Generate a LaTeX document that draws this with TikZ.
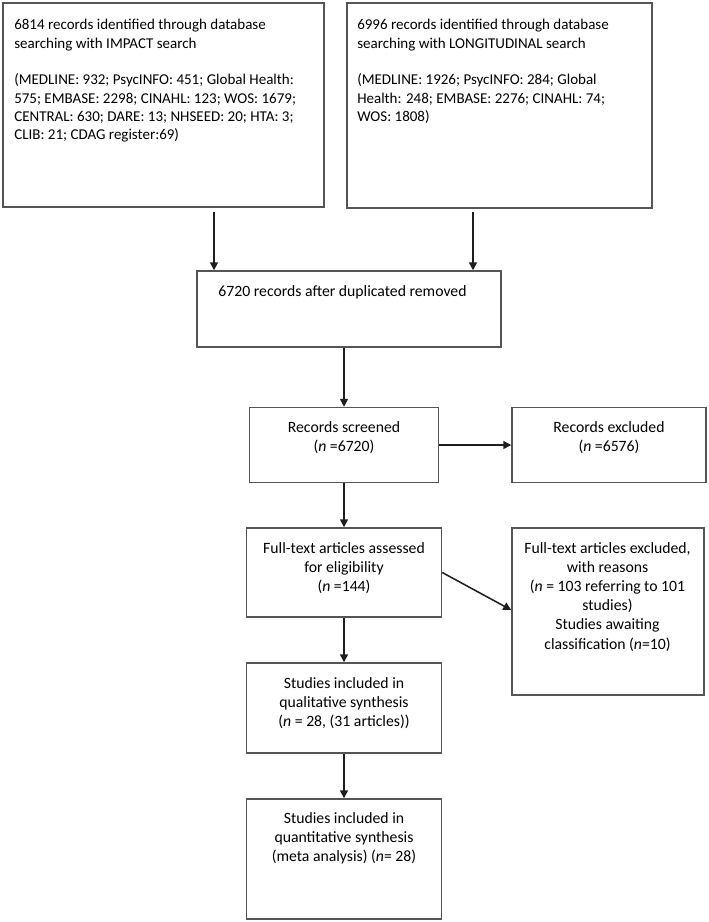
\documentclass[tikz,border=0pt]{standalone}
\usepackage{fontspec}
\setmainfont{Carlito}
\usetikzlibrary{arrows.meta}

\definecolor{boxline}{RGB}{85,85,85}
\definecolor{arrline}{RGB}{30,30,30}

\tikzset{
  box/.style={draw=boxline, line width=1.1pt, minimum width=#1, inner sep=0pt},
  txt/.style={inner sep=0pt, align=center, anchor=north, font=\fontsize{11.8}{14.4}\selectfont},
  toptxt/.style={inner sep=0pt, align=left, anchor=north west, font=\fontsize{11.25}{13.75}\selectfont},
  arr/.style={draw=arrline, line width=1.15pt, -{Triangle[length=6pt,width=6pt]}}
}

\begin{document}
\begin{tikzpicture}[x=0.75pt,y=0.75pt,yscale=-1,xscale=1]
\useasboundingbox (0,0) rectangle (709,922);

%Shape: Rectangle [id:impact]
\node [box=240.75pt, minimum height=153pt] (impact) at (163.5,105) {};
%Shape: Rectangle [id:longit]
\node [box=228.75pt, minimum height=153.75pt] (longit) at (499.5,105.5) {};
%Shape: Rectangle [id:dedup]
\node [box=228pt, minimum height=57pt] (dedup) at (349,309) {};
%Shape: Rectangle [id:screen]
\node [box=141.75pt, minimum height=56.25pt] (screen) at (344,445) {};
%Shape: Rectangle [id:recexcl]
\node [box=145.5pt, minimum height=56.25pt] (recexcl) at (609,445) {};
%Shape: Rectangle [id:fulltext]
\node [box=146.25pt, minimum height=66.75pt] (fulltext) at (344,572.5) {};
%Shape: Rectangle [id:ftexcl]
\node [box=144pt, minimum height=125.25pt] (ftexcl) at (608,611.5) {};
%Shape: Rectangle [id:qual]
\node [box=146.25pt, minimum height=67.5pt] (qual) at (344,708) {};
%Shape: Rectangle [id:quant]
\node [box=146.25pt, minimum height=90pt] (quant) at (344,859) {};

%Straight Lines [id:arrows]
\coordinate (jl) at (214,212);
\coordinate (jr) at (473,212);
\draw [arr] (jl) -- (jl |- dedup.north);
\draw [arr] (jr) -- (jr |- dedup.north);
\draw [arr] (dedup.south -| screen.north) -- (screen.north);
\draw [arr] (screen.east) -- (recexcl.west);
\draw [arr] (screen.south) -- (fulltext.north);
\draw [arr] (fulltext.east) -- (ftexcl.west |- 0,610);
\draw [arr] (fulltext.south) -- (qual.north);
\draw [arr] (qual.south) -- (quant.north);

% Text Node
\node [toptxt] (impacttxt) at (14,19) {6814 records identified through database\\searching with IMPACT search\\[13.75pt](MEDLINE: 932; PsycINFO: 451; Global Health:\\575; EMBASE: 2298; CINAHL: 123; WOS: 1679;\\CENTRAL: 630; DARE: 13; NHSEED: 20; HTA: 3;\\CLIB: 21; CDAG register:69)};
% Text Node
\node [toptxt] (longittxt) at (357,19) {6996 records identified through database\\searching with LONGITUDINAL search\\[13.75pt](MEDLINE: 1926; PsycINFO: 284; Global\\Health: 248; EMBASE: 2276; CINAHL: 74;\\WOS: 1808)};
% Text Node
\node [txt] (deduptxt) at (342.5,285) {6720 records after duplicated removed};
% Text Node
\node [txt] (screentxt) at (344,421) {Records screened\\(\textit{n} =6720)};
% Text Node
\node [txt] (recexcltxt) at (609,421) {Records excluded\\(\textit{n} =6576)};
% Text Node
\node [txt] (fulltexttxt) at (344,542) {Full-text articles assessed\\for eligibility\\(\textit{n} =144)};
% Text Node
\node [txt] (ftexcltxt) at (607.5,542) {Full-text articles excluded,\\with reasons\\(\textit{n} = 103 referring to 101\\studies)\\Studies awaiting\\classification (\textit{n}=10)};
% Text Node
\node [txt] (qualtxt) at (344,677) {Studies included in\\qualitative synthesis\\(\textit{n} = 28, (31 articles))};
% Text Node
\node [txt] (quanttxt) at (344,812) {Studies included in\\quantitative synthesis\\(meta analysis) (\textit{n}= 28)};
\end{tikzpicture}
\end{document}
